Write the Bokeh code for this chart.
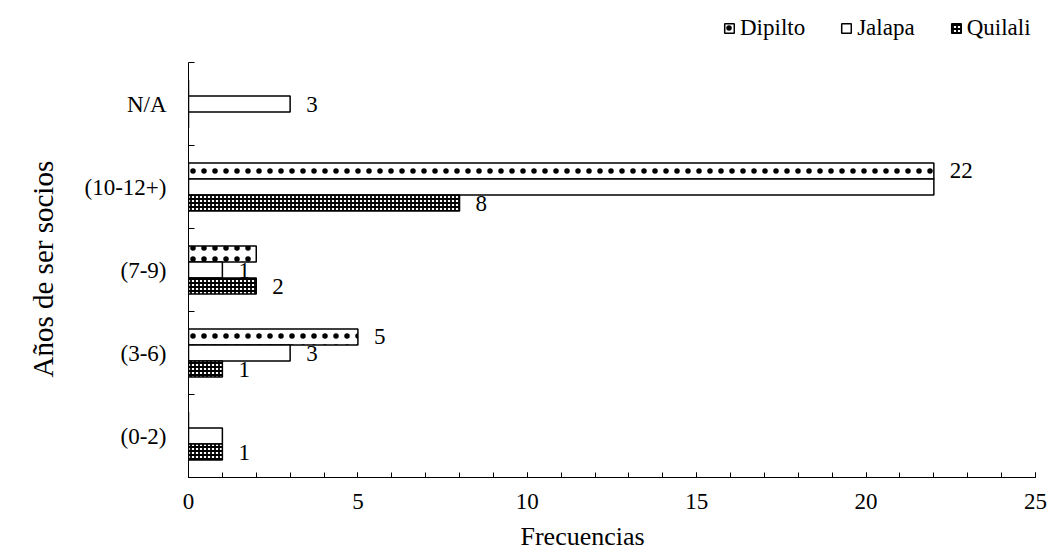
from bokeh.plotting import figure
from bokeh.models import (ColumnDataSource, FixedTicker, SingleIntervalTicker, Legend,
                          LegendItem, Range1d, Title)
from bokeh.transform import dodge
from bokeh.core.properties import value
from bokeh.embed import file_html
from bokeh.resources import INLINE

# ---- data ----
categories = ["(0-2)", "(3-6)", "(7-9)", "(10-12+)", "N/A"]
dipilto = [0, 5, 2, 22, 0]
jalapa = [1, 3, 1, 22, 3]
quilali = [1, 1, 2, 8, 0]
series_names = ["Dipilto", "Jalapa", "Quilali"]
# which data labels are visible in the original
show_dipilto = [False, True, False, True, False]
show_jalapa = [False, True, True, False, True]
show_quilali = [True, True, True, True, False]
x_ticks = [0, 5, 10, 15, 20, 25]
x_title = "Frecuencias"
y_title = "Años de ser socios"

FONT = "Times New Roman"
pos = [i + 0.5 for i in range(len(categories))]
src = ColumnDataSource(dict(cat=categories, y=pos, Dipilto=dipilto,
                            Jalapa=jalapa, Quilali=quilali))

N = len(categories)
TOP_EXTRA = 62.0 / 83.0   # room above the axis for the legend (layout only)
p = figure(width=1049, height=559, output_backend="svg", toolbar_location=None,
           x_range=Range1d(0, 25), y_range=Range1d(0, N + TOP_EXTRA),
           min_border_left=188, min_border_right=14, min_border_top=0,
           min_border_bottom=82)
p.outline_line_color = None
p.xgrid.visible = False
p.ygrid.visible = False
p.background_fill_color = "white"
p.border_fill_color = "white"

BAR_H = 0.193
styles = {
    "Dipilto": dict(fill_color="white", hatch_pattern="dot", hatch_scale=11,
                    hatch_weight=0.9, hatch_color="black", offset=BAR_H),
    "Jalapa": dict(fill_color="white", offset=0.0),
    "Quilali": dict(fill_color="white", hatch_pattern="cross", hatch_scale=4,
                    hatch_weight=1.8, hatch_color="black", offset=-BAR_H),
}
shows = {"Dipilto": show_dipilto, "Jalapa": show_jalapa, "Quilali": show_quilali}
vals = {"Dipilto": dipilto, "Jalapa": jalapa, "Quilali": quilali}

renderers = {}
for name in series_names:
    st = dict(styles[name])
    off = st.pop("offset")
    r = p.hbar(y=dodge("y", off, range=p.y_range), right=name, left=0,
               height=BAR_H, source=src, line_color="black", line_width=1.5, **st)
    renderers[name] = r
    idx = [i for i in range(N) if shows[name][i]]
    lsrc = ColumnDataSource(dict(y=[pos[i] for i in idx],
                                 x=[vals[name][i] for i in idx],
                                 t=[str(vals[name][i]) for i in idx]))
    p.text(x="x", y=dodge("y", off, range=p.y_range), text="t", source=lsrc,
           x_offset=16, text_baseline="middle", text_align="left",
           text_font=value(FONT), text_font_size="23px", text_color="black")

# x axis
xa = p.xaxis[0]
xa.ticker = SingleIntervalTicker(interval=5, num_minor_ticks=5)
xa.major_tick_in = 5
xa.major_tick_out = 0
xa.minor_tick_in = 5
xa.minor_tick_out = 0
xa.axis_line_color = "black"
xa.major_tick_line_color = "black"
xa.minor_tick_line_color = "black"
xa.major_label_text_font = FONT
xa.major_label_text_font_size = "23px"
xa.major_label_text_color = "black"
xa.major_label_standoff = 16

# y axis
ya = p.yaxis[0]
ya.bounds = (0, N)
ya.ticker = FixedTicker(ticks=pos, minor_ticks=list(range(N + 1)))
ya.major_label_overrides = {pos[i]: categories[i] for i in range(N)}
ya.major_tick_line_color = None
ya.minor_tick_in = 6
ya.minor_tick_out = 0
ya.minor_tick_line_color = "black"
ya.axis_line_color = "black"
ya.major_label_text_font = FONT
ya.major_label_text_font_size = "23px"
ya.major_label_text_color = "black"
ya.major_label_standoff = 16

# y title, placed as in the original (centred on the axis, not the whole frame)
p.add_layout(Title(text=y_title, align="left", offset=100, standoff=45,
                   text_font=FONT, text_font_size="29px",
                   text_font_style="normal", text_color="black"), "left")

# x title below the tick labels, shifted left of centre as in the original
p.add_layout(Title(text=x_title, align="left", offset=332, standoff=17,
                   text_font=FONT, text_font_size="26px",
                   text_font_style="normal", text_color="black"), "below")

legend = Legend(items=[LegendItem(label=n, renderers=[renderers[n]]) for n in series_names],
                orientation="horizontal", location=(535, 436),
                label_text_font=FONT, label_text_font_size="23px",
                label_text_color="black", glyph_width=12, glyph_height=12,
                label_standoff=5, spacing=35, padding=0, margin=0,
                border_line_color=None, background_fill_alpha=0)
p.add_layout(legend, "center")

open("out.html", "w").write(file_html(p, INLINE))
